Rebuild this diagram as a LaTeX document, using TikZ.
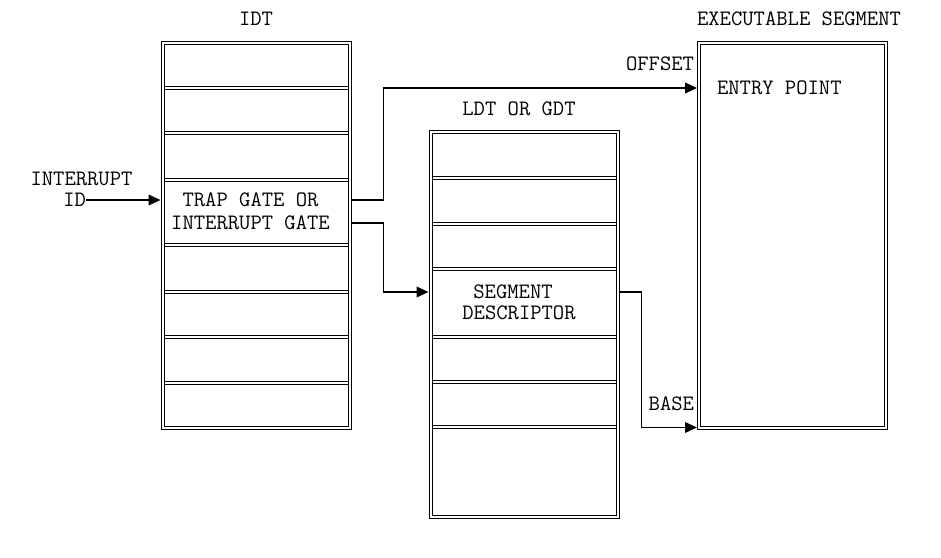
\documentclass[tikz,border=0pt]{standalone}
\usepackage{tikz}
\usetikzlibrary{arrows.meta, positioning}

\begin{document}
\begin{tikzpicture}[
    x=0.75pt, y=-0.75pt,
    txt/.style={font=\ttfamily\fontsize{16.5}{19}\selectfont, inner sep=0pt, outer sep=0pt},
    frame/.style={draw, double, double distance=1.5pt, line width=0.75pt, minimum width=140.25pt, minimum height=288.75pt, inner sep=0pt, outer sep=1.5pt},
    rowline/.style={draw, double, double distance=1.5pt, line width=0.75pt},
    link/.style={draw, line width=1.1pt, -{Triangle[length=9pt, width=8pt]}},
]
\useasboundingbox (0,0) rectangle (941,557);

% Row separators
\foreach \y in {87.5, 133, 179.5, 245, 291.5, 337, 382.5}
    \draw[rowline] (164,\y) -- (348,\y);
\foreach \y in {178, 223.5, 269, 336.5, 381.5, 426.5}
    \draw[rowline] (432,\y) -- (616,\y);

% Tables
\node[frame] (idt) at (256,235) {};
\node[frame] (ldt) at (524,324) {};
\node[frame] (exec) at (792.5,235) {};

% Headers
\node[txt] (idthead) at (256,19) {IDT};
\node[txt] (ldthead) at (519,109) {LDT OR GDT};
\node[txt] (exechead) at (799,19) {EXECUTABLE SEGMENT};

% Entries
\node[txt] (trap1) at (250.5,200) {TRAP GATE OR};
\node[txt] (trap2) at (250.5,223) {INTERRUPT GATE};
\node[txt] (seg1) at (513,292) {SEGMENT};
\node[txt] (seg2) at (519,313) {DESCRIPTOR};
\node[txt, anchor=west] (entry) at (717,88) {ENTRY POINT};

% Side labels
\node[txt] (intr) at (81.5,179) {INTERRUPT};
\node[txt, anchor=east] (intid) at (86,200) {ID};
\node[txt, anchor=east] (offset) at (694,64) {OFFSET};
\node[txt, anchor=east] (base) at (694,404) {BASE};

% Connectors
\draw[link] (intid.east) -- (idt.west |- intid);
\draw[link] (idt.east |- trap1) -- ++(32,0) |- (exec.west |- entry);
\draw[link] (idt.east |- trap2) -- ++(32,0) |- (ldt.west |- seg1);
\draw[link] (ldt.east |- seg1) -- ++(22,0) |- ([yshift=1.5pt]exec.south west);

\end{tikzpicture}
\end{document}
